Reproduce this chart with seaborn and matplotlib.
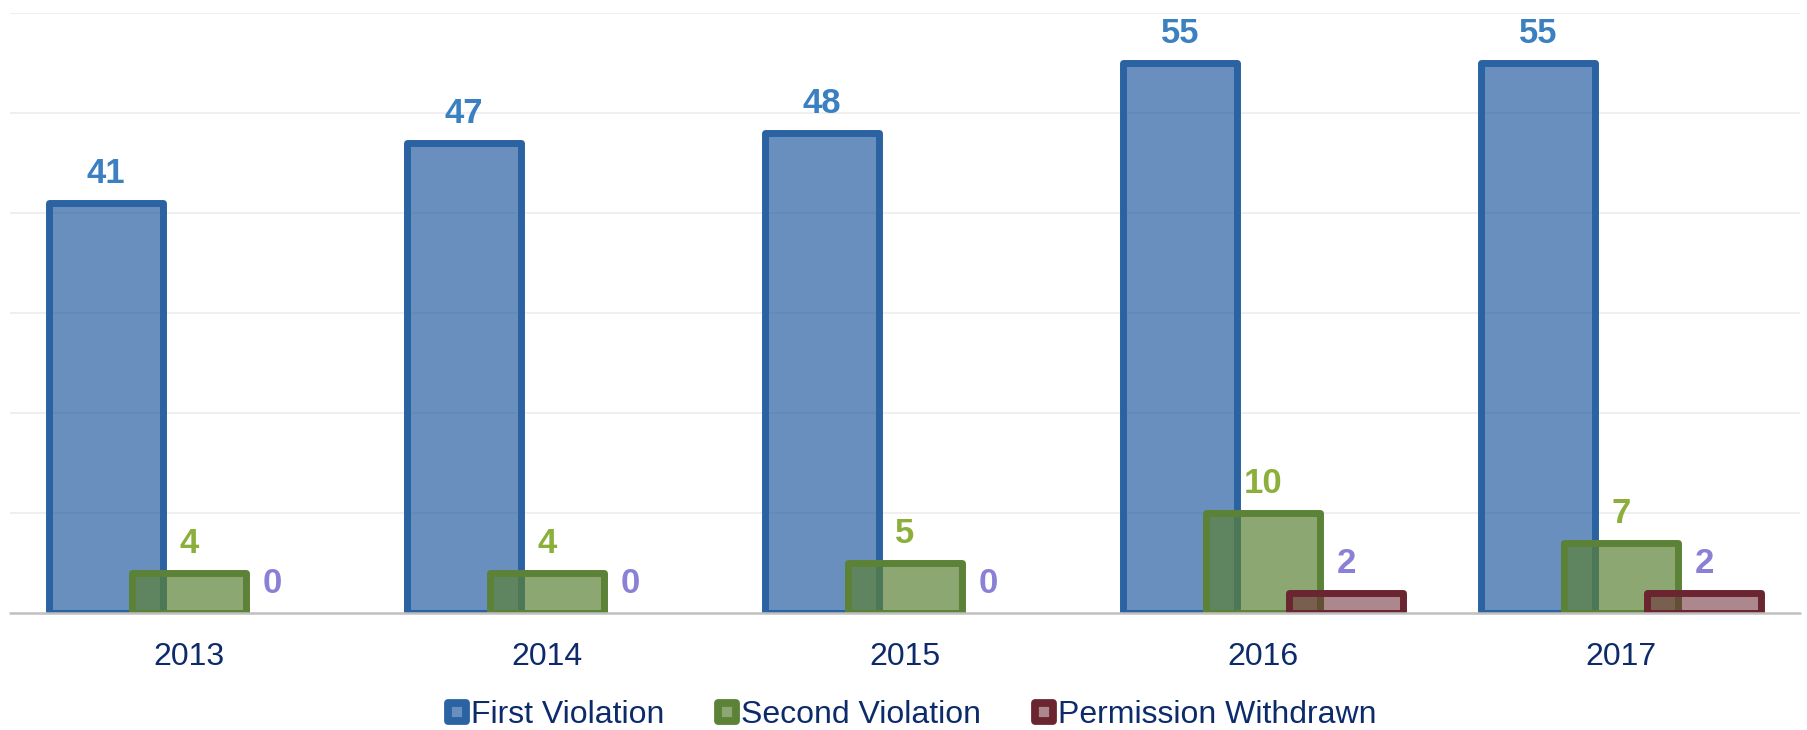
import numpy as np
import pandas as pd
import matplotlib
matplotlib.use("Agg")
import matplotlib.pyplot as plt
import seaborn as sns
from matplotlib.lines import Line2D
from matplotlib.markers import MarkerStyle
from matplotlib.colors import to_rgba

# ---- data ----
years = ["2013", "2014", "2015", "2016", "2017"]
series = ["First Violation", "Second Violation", "Permission Withdrawn"]
first_violation = [41, 47, 48, 55, 55]
second_violation = [4, 4, 5, 10, 7]
permission_withdrawn = [0, 0, 0, 2, 2]

df = pd.DataFrame({
    "year": years * 3,
    "series": [s for s in series for _ in years],
    "value": first_violation + second_violation + permission_withdrawn,
})

sns.set_theme(style="white")
plt.rcParams["font.family"] = ["Liberation Sans", "DejaVu Sans"]

edge_cols = ["#2a62a2", "#5b8237", "#6a2531"]
face_alpha = [0.71, 0.70, 0.55]
label_cols = ["#3b80c0", "#8caf3c", "#8a80d6"]
text_col = "#0d2b6b"

W, H = 1807, 730
fig = plt.figure(figsize=(W / 100, H / 100), dpi=100)
ax = fig.add_axes([10 / W, 117 / H, 1790 / W, 600 / H])

sns.barplot(data=df, x="year", y="value", hue="series", order=years,
            hue_order=series, palette=edge_cols, saturation=1, width=0.696,
            dodge=True, gap=0, errorbar=None, legend=False, ax=ax)

bar_w = 0.316
for i, cont in enumerate(ax.containers):
    for p in cont.patches:
        h = p.get_height()
        c = p.get_x() + p.get_width() / 2
        p.set_width(bar_w)
        p.set_x(c - bar_w / 2)
        p.set_facecolor(to_rgba(edge_cols[i], face_alpha[i]))
        p.set_edgecolor(edge_cols[i])
        p.set_linewidth(5)
        p.set_joinstyle("round")
        if h == 0:
            p.set_visible(False)
        ax.annotate(f"{int(round(h))}", xy=(c, h), xytext=(0, 14.5),
                    textcoords="offset points", ha="center", va="baseline",
                    fontsize=25, fontweight="bold", color=label_cols[i])

ax.set_xlim(-0.5, 4.5)
ax.set_ylim(0, 60)
ax.set_yticks([10, 20, 30, 40, 50, 60])
ax.yaxis.grid(True, color="#ebebeb", lw=1.1)
ax.xaxis.grid(False)
ax.set_axisbelow(True)
ax.tick_params(axis="y", left=False, labelleft=False)
ax.tick_params(axis="x", length=0, pad=21, labelsize=23, labelcolor=text_col)
ax.set_xlabel("")
ax.set_ylabel("")
for s in ax.spines.values():
    s.set_visible(False)
ax.axhline(0, color="#c0c0c0", lw=1.8, zorder=10, clip_on=False)

handles = []
for i in range(3):
    handles.append(Line2D([], [], ls="", marker=MarkerStyle("s", joinstyle="round"),
                          markersize=12.5, markeredgewidth=5.6,
                          markeredgecolor=edge_cols[i],
                          markerfacecolor=to_rgba(edge_cols[i], face_alpha[i])))
fig.legend(handles, series, loc="center", bbox_to_anchor=(911 / W, 15 / H),
           ncol=3, frameon=False, fontsize=23, handlelength=0.7,
           handletextpad=0.08, columnspacing=1.62, labelcolor=text_col)

fig.savefig("out.png", dpi=100)
